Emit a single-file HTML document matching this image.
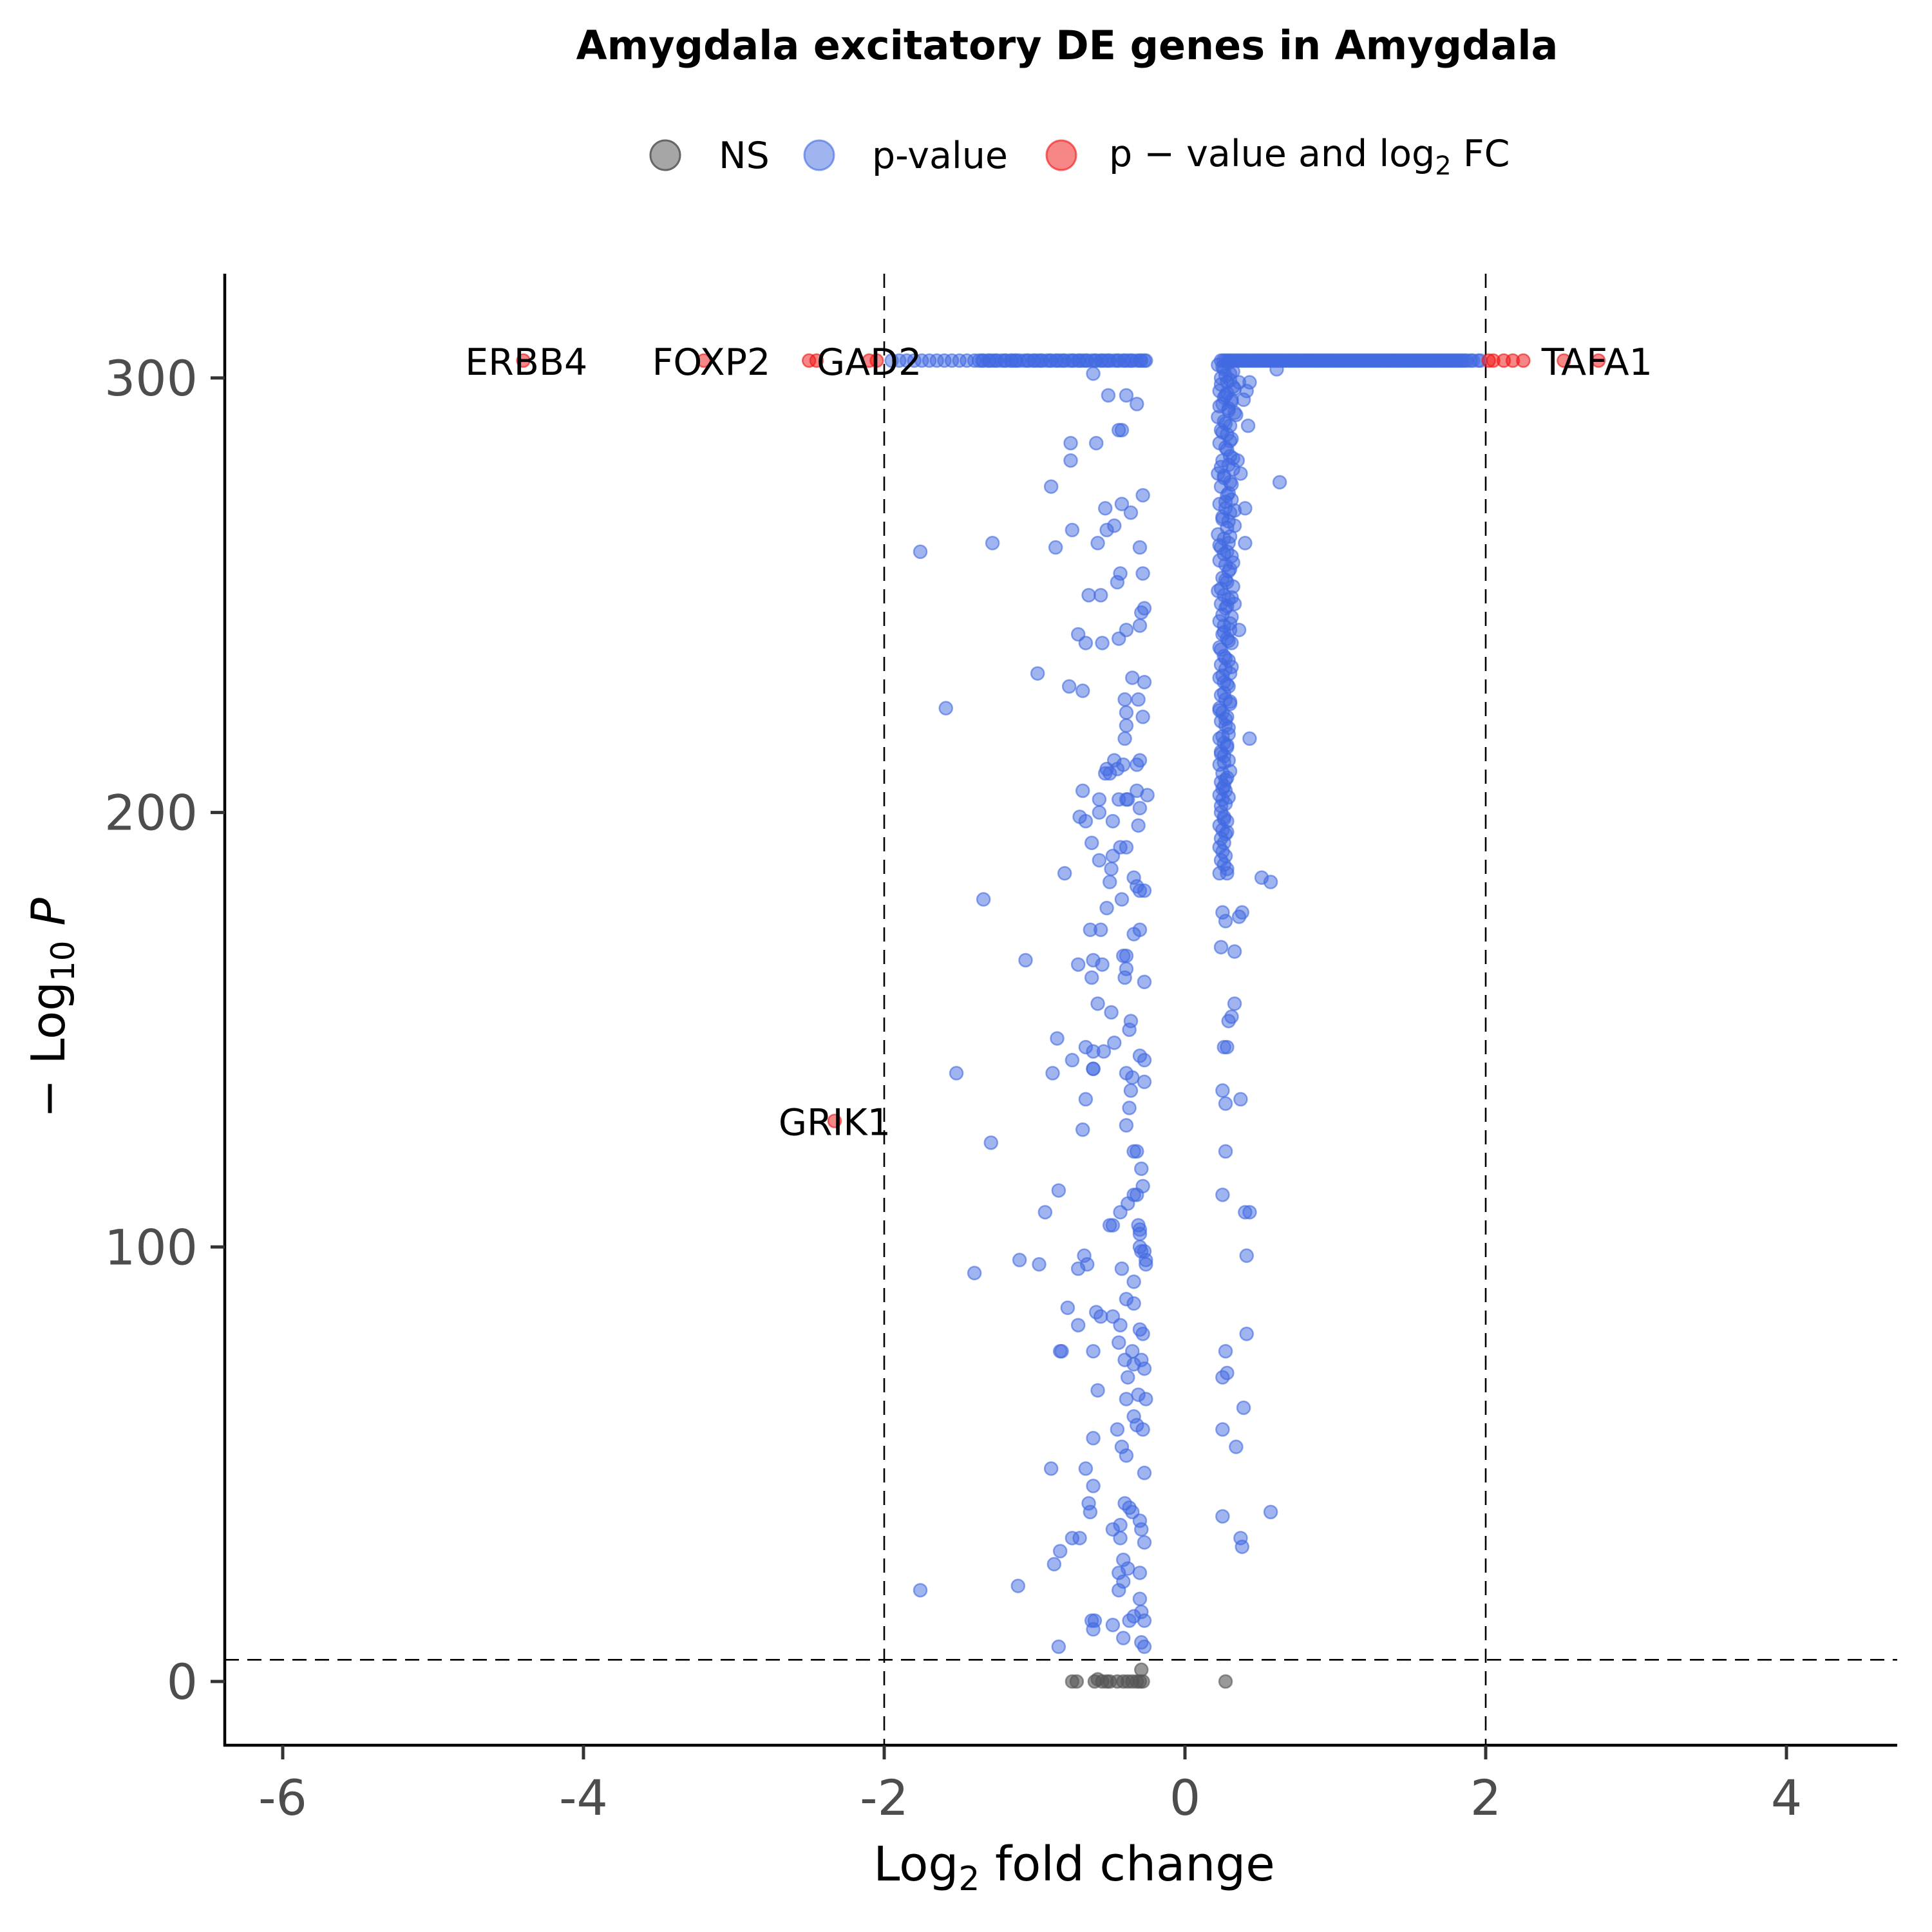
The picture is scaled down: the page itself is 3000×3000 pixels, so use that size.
<!DOCTYPE html>
<html><head><meta charset="utf-8"><style>
html,body{margin:0;padding:0;background:#fff;}
svg{display:block;font-family:"DejaVu Sans","Liberation Sans",sans-serif;}
</style></head><body>
<svg id="chart" width="3000" height="3000" viewBox="0 0 3000 3000" xmlns="http://www.w3.org/2000/svg">
<rect x="0" y="0" width="3000" height="3000" fill="#fff"/>
<text x="1657" y="92" text-anchor="middle" font-size="62" font-weight="bold" fill="#000">Amygdala excitatory DE genes in Amygdala</text>
<g>
<circle cx="1033" cy="241" r="23" fill="#808080" fill-opacity="0.7" stroke="#666" stroke-width="3"/>
<text x="1116" y="261" font-size="57" fill="#000">NS</text>
<circle cx="1272" cy="241" r="23" fill="#4169E1" fill-opacity="0.5" stroke="#4169E1" stroke-opacity="0.6" stroke-width="3"/>
<text x="1354" y="261" font-size="57" fill="#000">p-value</text>
<circle cx="1648" cy="241" r="23" fill="#F01010" fill-opacity="0.5" stroke="#F01010" stroke-opacity="0.6" stroke-width="3"/>
<text x="1722" y="258" font-size="57" fill="#000">p − value and log<tspan font-size="40" dy="13">2</tspan><tspan dy="-13"> FC</tspan></text>
</g>
<g id="plot"></g>
<text x="1668" y="2920" text-anchor="middle" font-size="74" fill="#000">Log<tspan font-size="52" dy="15">2</tspan><tspan dy="-15"> fold change</tspan></text>
<text transform="translate(100,1565) rotate(-90)" text-anchor="middle" font-size="72" fill="#000">− Log<tspan font-size="50" dy="15">10</tspan><tspan dy="-15" font-style="italic"> P</tspan></text>
</svg>
<script>
const xTicks=[-6,-4,-2,0,2,4];
const yTicks=[0,100,200,300];
const nsX=[-0.75,-0.72,-0.6,-0.58,-0.55,-0.52,-0.5,-0.45,-0.41,-0.38,-0.35,-0.32,-0.3,-0.29,-0.28,0.27];
const nsY=[0,0,0,0.5,0,0,0,0,0,0,0,0,0,2.7,0,0];
const leftTopX=[-1.95,-1.9,-1.85,-1.8,-1.75,-1.7,-1.65,-1.6,-1.55,-1.5,-1.45,-1.4,-1.37,-1.34,-1.31,-1.28,-1.25,-1.22,-1.19,-1.16,-1.13,-1.1,-1.07,-1.04,-1.01,-0.98,-0.95,-0.92,-0.89,-0.86,-0.83,-0.8,-0.77,-0.74,-0.71,-0.68,-0.65,-0.62,-0.59,-0.56,-0.53,-0.5,-0.47,-0.44,-0.41,-0.38,-0.35,-0.32,-0.29,-0.26];
const leftTopX2=[-1.35,-1.3,-1.26,-1.2,-1.15,-1.12,-1.05,-1.0,-0.96,-0.9,-0.85,-0.81,-0.75,-0.7,-0.66,-0.6,-0.55,-0.51,-0.45,-0.4,-0.36,-0.3,-0.27];
const rightTopX=[0.24,0.27,0.3,0.33,0.36,0.39,0.42,0.45,0.48,0.51,0.54,0.57,0.6,0.63,0.66,0.69,0.72,0.75,0.78,0.81,0.84,0.87,0.9,0.93,0.96,0.99,1.02,1.05,1.08,1.11,1.14,1.17,1.2,1.23,1.26,1.29,1.32,1.35,1.38,1.41,1.44,1.47,1.5,1.53,1.56,1.59,1.62,1.65,1.68,1.71,1.74,1.77,1.8,1.83,1.86,1.9,1.95];
const topY=304;
const sigX=[-0.61,-0.51,-0.39,-0.32,-0.42,-0.44,-0.76,-0.76,-0.59,-0.89,-0.75,-0.53,-0.42,-0.36,-0.47,-0.52,-0.30,-0.28,-1.76,-1.28,-0.86,-0.58,-0.43,-0.45,-0.28,-0.56,-0.27,-0.29,-0.64,-0.71,-0.66,-0.55,-0.44,-0.39,-0.30,-0.98,-0.77,-0.68,-0.35,-0.27,-1.59,-0.40,-0.31,-0.28,-0.39,-0.39,-0.40,-0.47,-0.30,-0.32,-0.45,-0.52,-0.53,-0.50,-0.41,-0.68,-0.57,-0.44,-0.39,-0.32,-0.25,-0.38,-0.57,-0.48,-0.30,-0.70,-0.66,-0.31,-0.62,-0.43,-0.39,-0.48,-0.57,-0.80,-0.49,-0.34,-0.30,-0.27,-0.32,-0.50,-0.52,-0.42,-1.34,-0.63,-0.56,-0.30,-0.34,-0.61,-0.71,-0.55,-0.41,-0.39,-1.06,-0.39,-0.40,-0.27,-0.62,-0.58,-0.49,-0.36,-0.37,-0.85,-0.66,-0.54,-0.61,-0.47,-0.30,-0.27,-0.75,-0.61,-1.52,-0.88,-0.61,-0.39,-0.35,-0.27,-0.36,-0.66,-0.37,-0.39,-0.68,-1.29,-0.34,-0.32,-0.29,-0.28,-0.34,-0.32,-0.38,-0.84,-0.93,-0.43,-0.31,-0.30,-0.30,-0.48,-0.50,-0.30,-0.29,-0.27,-0.26,-0.26,-0.67,-0.65,-0.71,-0.42,-0.34,-1.10,-0.97,-1.40,-0.39,-0.34,-0.48,-0.78,-0.59,-0.56,-0.71,-0.43,-0.30,-0.28,-0.44,-0.35,-0.83,-0.82,-0.61,-0.40,-0.29,-0.27,-0.34,-0.58,-0.38,-0.31,-0.26,-0.39,-0.61,-0.45,-0.34,-0.32,-0.28,-0.42,-0.39,-0.27,-0.66,-0.61,-0.89,-0.64,-0.63,-0.40,-0.37,-0.35,-0.30,-0.29,-0.43,-0.48,-0.43,-0.27,-0.70,-0.75,-0.83,-0.87,-0.41,-0.38,-0.30,-0.44,-0.41,-1.11,-1.76,-0.44,-0.30,-0.29,-0.34,-0.60,-0.27,-0.37,-0.48,-0.62,-0.29,-0.27,-0.41,-0.84,-0.61,
0.61,0.43,0.41,0.63,0.40,0.40,0.43,0.51,0.57,0.28,0.38,0.36,0.25,0.27,0.24,0.33,0.31,0.33,0.29,0.26,0.28,0.25,0.37,0.27,0.27,0.25,0.40,0.43,0.41,0.41,0.27,0.28,0.25,0.39,0.25,0.34,0.25,0.57,0.37,0.38,0.36,0.39,0.42,0.35,0.37,0.33,0.36];
const sigY=[301,296,296,294,288,288,285,281,285,275,265,270,271,269,266,265,261,273,260,262,261,262,255,253,255,250,247,246,250,241,239,239,240,242,243,232,229,228,231,230,224,226,226,222,223,220,217,212,212,211,210,210,209,209,211,205,203,203,203,205,204,203,200,198,201,199,198,197,193,192,192,190,189,186,187,185,182,182,183,184,178,180,180,173,173,173,172,166,165,165,167,167,166,164,162,161,162,156,154,152,150,148,146,145,145,147,144,143,143,141,140,140,141,140,139,138,136,134,132,128,127,124,122,122,118,114,112,112,110,113,108,108,105,104,103,105,105,100,99,99,97,96,98,96,95,95,92,97,96,94,88,87,84,86,85,84,82,82,81,80,78,76,76,76,76,74,74,72,73,67,70,66,65,65,56,58,61,59,58,54,52,48,49,45,49,41,39,41,40,39,37,35,36,35,33,32,33,33,30,27,28,26,25,25,23,22,21,21,19,16,15,14,14,14,13,14,9,8,10,8,12,
302,299,297,276,270,262,217,185,184,186,177,176,177,175,169,168,153,156,152,146,146,136,134,133,122,112,108,108,98,80,76,71,70,63,58,54,38,39,33,31,299,295,289,281,278,248,242];
const bandX=[0.22,0.26,0.30,0.24,0.28,0.32,0.23,0.27,0.31,0.25,0.29,0.33,0.22,0.26,0.30,0.24,0.28,0.31,0.23,0.27,0.30,0.25,0.29,0.32,0.22,0.26,0.30,0.24,0.28,0.31,0.23,0.27,0.30,0.25,0.29,0.33,0.22,0.26,0.29,0.24,0.28,0.31,0.23,0.27,0.30,0.25,0.28,0.32,0.22,0.26,0.29,0.24,0.27,0.31,0.23,0.26,0.30,0.25,0.28,0.31,0.23,0.26,0.29,0.24,0.27,0.30,0.23,0.26,0.29,0.24,0.27,0.30,0.23,0.25,0.28,0.24,0.27,0.29,0.23,0.26,0.28,0.24,0.26,0.29,0.23,0.25,0.28,0.24,0.26,0.27,0.23,0.25,0.27,0.24,0.26,0.28,0.23,0.25,0.27,0.24,0.26,0.23,0.25,0.27,0.24,0.26,0.28,0.23];
const bandY=[303,302,301,300,299,298,297,296,295,294,293,292,291,290,289,288,287,286,285,284,282,281,280,279,278,277,276,275,273,272,271,270,269,268,267,266,264,263,262,261,260,259,258,257,256,254,253,252,251,250,249,248,247,245,244,243,242,241,240,239,238,236,235,234,233,232,231,230,229,227,226,225,224,223,222,221,220,218,217,216,215,214,213,212,211,209,208,207,206,205,204,203,202,200,199,198,197,196,195,194,193,192,191,190,189,188,187,186];
const band2X=[0.29,0.25,0.32,0.27,0.30,0.24,0.33,0.28,0.26,0.31,0.23,0.29,0.34,0.27,0.25,0.30,0.28,0.32,0.24,0.26,0.31,0.29,0.27,0.33,0.25,0.28,0.30,0.23,0.26,0.32,0.29,0.27,0.24,0.31,0.28,0.25,0.30,0.26,0.29,0.24,0.27,0.31,0.25,0.28,0.26,0.30,0.23,0.27,0.29,0.25,0.28,0.24,0.26,0.30,0.27,0.25,0.29,0.24,0.26,0.28];
const band2Y=[303.5,302.5,301.5,300.5,299.5,298.5,297.5,296.5,295.5,294.5,293.5,292.5,291.5,289.5,287.5,285.5,283.5,281.5,279.5,277.5,275.5,273.5,271.5,269.5,267.5,265.5,263.5,261.5,259.5,257.5,255.5,253.5,251.5,249.5,247.5,245.5,243.5,241.5,239.5,237.5,235.5,233.5,231.5,229.5,227.5,225.5,223.5,221.5,219.5,217.5,215.5,213.5,211.5,209.5,207.5,205.5,203.5,201.5,198.5,195.5];
const redX=[-4.4,-3.2,-2.5,-2.45,-2.1,-2.05,-2.33,2.02,2.05,2.12,2.18,2.25,2.52,2.75];
const redY=[304,304,304,304,304,304,129,304,304,304,304,304,304,304];
const geneNames=["ERBB4","FOXP2","GAD2","GRIK1","TAFA1"];
const geneX=[-4.38,-3.15,-2.1,-2.33,2.74];
const geneY=[304,304,304,129,304];
const vLines=[-2,2];
const hLine=5;

const NS='http://www.w3.org/2000/svg';
const X0=1840, XU=233.5, Y0=2611, YU=6.747;
const L=349, R=2946, T=425, B=2710;
function sx(v){return X0+v*XU;}
function sy(v){return Y0-v*YU;}
const g=document.getElementById('plot');
function mk(tag,attrs,parent){const e=document.createElementNS(NS,tag);for(const k in attrs)e.setAttribute(k,attrs[k]);(parent||g).appendChild(e);return e;}

for(const v of vLines){
  const ln=mk('line',{x1:sx(v),x2:sx(v),y1:T,y2:B,stroke:'#000','stroke-width':2.6,'stroke-dasharray':'22,13'});
  
  
}
const hl=mk('line',{x1:L,x2:R,y1:sy(hLine),y2:sy(hLine),stroke:'#000','stroke-width':2.6,'stroke-dasharray':'22,13'});



function dot(x,y,fill,stroke,fo,name){
  const c=mk('circle',{cx:sx(x),cy:sy(y),r:10,fill:fill,'fill-opacity':fo,stroke:stroke,'stroke-opacity':0.6,'stroke-width':2.5});
  
  
}
for(let i=0;i<nsX.length;i++) dot(nsX[i],nsY[i],'#555','#555',0.6,'ns-point');
for(const x of leftTopX) dot(x,topY,'#4169E1','#4169E1',0.5,'pvalue-point');
for(const x of leftTopX2) dot(x,topY,'#4169E1','#4169E1',0.5,'pvalue-point');
for(const x of rightTopX) dot(x,topY,'#4169E1','#4169E1',0.5,'pvalue-point');
for(const x of rightTopX) dot(x+0.015,topY,'#4169E1','#4169E1',0.5,'pvalue-point');
for(let i=0;i<bandX.length;i++) dot(bandX[i],bandY[i],'#4169E1','#4169E1',0.5,'pvalue-point');
for(let i=0;i<band2X.length;i++) dot(band2X[i],band2Y[i],'#4169E1','#4169E1',0.5,'pvalue-point');
for(let i=0;i<sigX.length;i++) dot(sigX[i],sigY[i],'#4169E1','#4169E1',0.5,'pvalue-point');
for(let i=0;i<redX.length;i++) dot(redX[i],redY[i],'#F01010','#F01010',0.5,'pvalue-fc-point');

for(let i=0;i<geneNames.length;i++){
  const t=mk('text',{x:sx(geneX[i]),y:sy(geneY[i])+22,'text-anchor':'middle','font-size':57,fill:'#000'});
  t.textContent=geneNames[i];
  
  
}

const ya=mk('line',{x1:L,x2:L,y1:T,y2:B+2,stroke:'#000','stroke-width':4.5});


const xa=mk('line',{x1:L-2,x2:R,y1:B,y2:B,stroke:'#000','stroke-width':4.5});


for(const v of xTicks){
  const tk=mk('line',{x1:sx(v),x2:sx(v),y1:B,y2:B+22,stroke:'#333','stroke-width':5});
  
  
  const tl=mk('text',{x:sx(v),y:B+108,'text-anchor':'middle','font-size':76,fill:'#4D4D4D'});
  tl.textContent=String(v);
  
  
}
for(const v of yTicks){
  const tk=mk('line',{x1:L-22,x2:L,y1:sy(v),y2:sy(v),stroke:'#333','stroke-width':5});
  
  
  const tl=mk('text',{x:L-42,y:sy(v)+27,'text-anchor':'end','font-size':76,fill:'#4D4D4D'});
  tl.textContent=String(v);
  
  
}
</script>
</body></html>
